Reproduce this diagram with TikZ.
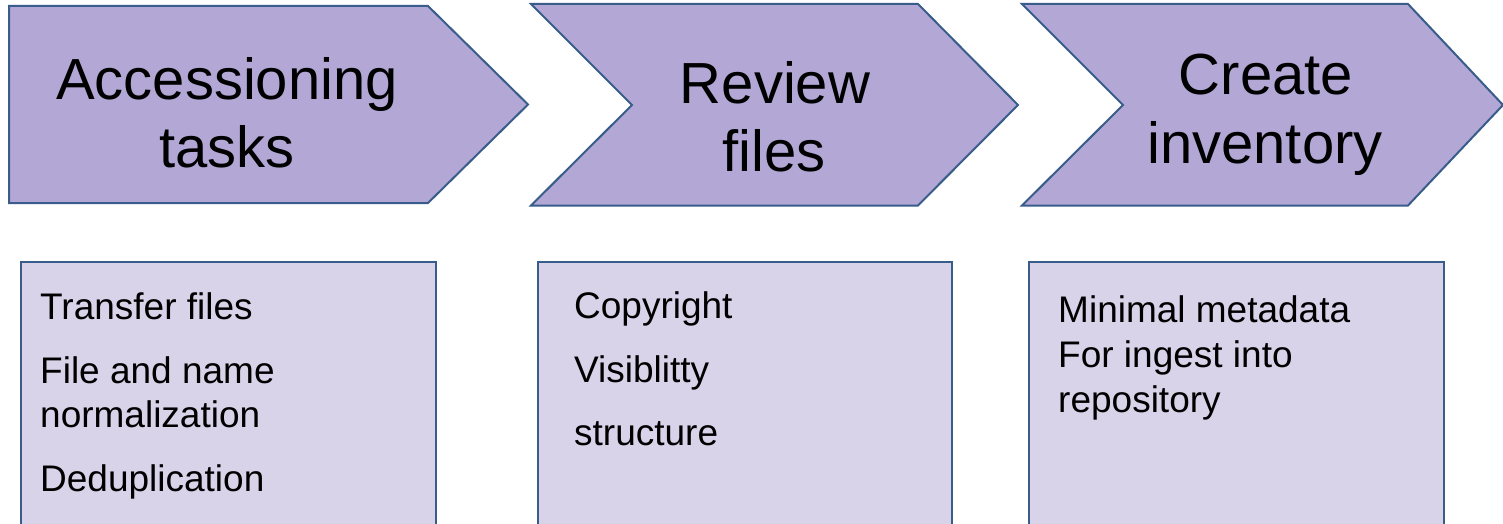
\documentclass[tikz,border=0pt]{standalone}
\usepackage{fontspec}
\setmainfont{Liberation Sans}
\definecolor{chevfill}{RGB}{179,167,213}
\definecolor{boxfill}{RGB}{217,211,233}
\definecolor{edge}{RGB}{56,93,138}
\tikzset{
  chev/.style={fill=chevfill, draw=edge, line width=2pt, line join=miter},
  panel/.style={fill=boxfill, draw=edge, line width=1.6pt},
  title/.style={anchor=base, inner sep=0pt, font=\fontsize{58}{68}\selectfont},
  item/.style={anchor=base west, inner sep=0pt, font=\fontsize{37}{44}\selectfont},
}
\begin{document}
\begin{tikzpicture}[x=1pt, y=-1pt]
\path[use as bounding box, clip] (0,0) rectangle (1503,524);
\fill[white] (0,0) rectangle (1503,524);
% chevrons
\draw[chev] (9,6) -- (428,6) -- (528,104.5) -- (428,203) -- (9,203) -- cycle;
\draw[chev] (531,4) -- (918,4) -- (1018,105) -- (918,205.5) -- (531,205.5) -- (632,105) -- cycle;
\draw[chev] (1022,4) -- (1408,4) -- (1503,105) -- (1408,205.5) -- (1022,205.5) -- (1123,105) -- cycle;
% panels
\draw[panel] (21,262) rectangle (436,545);
\draw[panel] (538,262) rectangle (952,545);
\draw[panel] (1029,262) rectangle (1444,545);
% titles
\node[title] (t1a) at (227,100) {Accessioning};
\node[title] (t1b) at (227,167) {tasks};
\node[title] (t2a) at (775,103) {Review};
\node[title] (t2b) at (774,171) {files};
\node[title] (t3a) at (1266,95) {Create};
\node[title] (t3b) at (1265,163) {inventory};
% items
\node[item] (i1a) at (40,319) {Transfer files};
\node[item] (i1b) at (40,383) {File and name};
\node[item] (i1c) at (40,427) {normalization};
\node[item] (i1d) at (40,491) {Deduplication};
\node[item] (i2a) at (574,318) {Copyright};
\node[item] (i2b) at (574,382) {Visiblitty};
\node[item] (i2c) at (574,445) {structure};
\node[item] (i3a) at (1058,322) {Minimal metadata};
\node[item] (i3b) at (1058,367) {For ingest into};
\node[item] (i3c) at (1058,412) {repository};
\end{tikzpicture}
\end{document}
